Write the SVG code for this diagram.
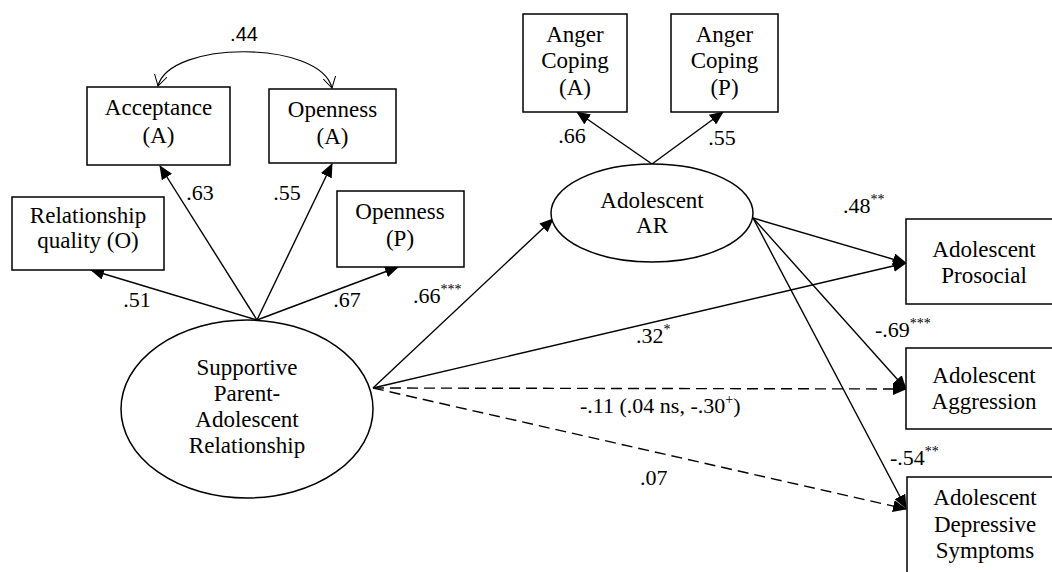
<svg xmlns="http://www.w3.org/2000/svg" width="1052" height="572" viewBox="0 0 1052 572" font-family="'Liberation Serif', 'Times New Roman', Times, serif">
<defs>
<marker id="arr" markerUnits="userSpaceOnUse" markerWidth="14" markerHeight="12" refX="13" refY="6" orient="auto">
<path d="M0,0 L14,6 L0,12 Z" fill="#000"/>
</marker>
<marker id="open" markerUnits="userSpaceOnUse" markerWidth="12" markerHeight="14" refX="11" refY="7" orient="auto-start-reverse">
<path d="M0,0.5 L11,7 L0,13.5" fill="none" stroke="#000" stroke-width="1"/>
</marker>
<style>
rect, ellipse { fill: #fff; stroke: #000; stroke-width: 1.5; }
text { font-size: 23px; fill: #000; }
.c { text-anchor: middle; }
.lbl { font-size: 22px; }
.sans { font-family: 'Liberation Sans', Arial, sans-serif; font-size: 20px; }
.ln { stroke: #000; stroke-width: 1.4; fill: none; marker-end: url(#arr); }
.dash { stroke-dasharray: 11 6; }
.sup { font-size: 14px; }
</style>
</defs>

<g id="connectors">
<path d="M158,86 C170,40 320,40 332,88" stroke="#000" stroke-width="1.2" fill="none" marker-start="url(#open)" marker-end="url(#open)"/>
<line class="ln" x1="257" y1="320" x2="160" y2="166"/>
<line class="ln" x1="257" y1="320" x2="332" y2="164"/>
<line class="ln" x1="257" y1="320" x2="91" y2="270"/>
<line class="ln" x1="257" y1="320" x2="398" y2="267"/>
<line class="ln" x1="652" y1="164" x2="577" y2="112"/>
<line class="ln" x1="652" y1="164" x2="723" y2="112"/>
<line class="ln" x1="373" y1="388" x2="553" y2="219"/>
<line class="ln" x1="373" y1="388" x2="906" y2="263"/>
<line class="ln dash" x1="373" y1="388" x2="906" y2="389"/>
<line class="ln dash" x1="373" y1="388" x2="906" y2="509"/>
<line class="ln" x1="753" y1="218" x2="906" y2="263"/>
<line class="ln" x1="753" y1="218" x2="906" y2="389"/>
<line class="ln" x1="753" y1="218" x2="906" y2="508"/>
</g>

<g id="labels">
<text class="sans c" x="244" y="41">.44</text>
<text class="lbl c" x="200" y="200">.63</text>
<text class="lbl c" x="287" y="200">.55</text>
<text class="lbl c" x="137" y="307">.51</text>
<text class="lbl c" x="347" y="307">.67</text>
<text class="lbl c" x="572" y="143">.66</text>
<text class="lbl c" x="722" y="145">.55</text>
<text class="lbl" x="413" y="303">.66<tspan class="sup" dy="-9">***</tspan></text>
<text class="lbl" x="636" y="343">.32<tspan class="sup" dy="-9">*</tspan></text>
<text class="lbl" x="580" y="413">-.11 (.04 ns, -.30<tspan class="sup" dy="-9">+</tspan><tspan dy="9">)</tspan></text>
<text class="lbl" x="640" y="485">.07</text>
<text class="lbl" x="843" y="213">.48<tspan class="sup" dy="-9">**</tspan></text>
<text class="lbl" x="875" y="337">-.69<tspan class="sup" dy="-9">***</tspan></text>
<text class="lbl" x="890" y="465">-.54<tspan class="sup" dy="-9">**</tspan></text>
</g>

<g id="acceptance">
<rect x="87" y="87" width="143" height="78"/>
<text class="c" x="158.5" y="115">Acceptance</text>
<text class="c" x="158.5" y="143">(A)</text>
</g>
<g id="openness-a">
<rect x="269" y="89" width="127" height="74"/>
<text class="c" x="332.5" y="117">Openness</text>
<text class="c" x="332.5" y="144">(A)</text>
</g>
<g id="relationship-quality">
<rect x="12" y="197" width="152" height="73"/>
<text class="c" x="88" y="223">Relationship</text>
<text class="c" x="88" y="248">quality (O)</text>
</g>
<g id="openness-p">
<rect x="337" y="191" width="127" height="76"/>
<text class="c" x="400" y="219">Openness</text>
<text class="c" x="400" y="246">(P)</text>
</g>
<g id="supportive">
<ellipse cx="247" cy="409" rx="126" ry="89"/>
<text class="c" x="247" y="375">Supportive</text>
<text class="c" x="247" y="401">Parent-</text>
<text class="c" x="247" y="427">Adolescent</text>
<text class="c" x="247" y="453">Relationship</text>
</g>
<g id="anger-a">
<rect x="523" y="14" width="104" height="98"/>
<text class="c" x="575" y="42">Anger</text>
<text class="c" x="575" y="68">Coping</text>
<text class="c" x="575" y="95">(A)</text>
</g>
<g id="anger-p">
<rect x="671" y="14" width="107" height="98"/>
<text class="c" x="724.5" y="42">Anger</text>
<text class="c" x="724.5" y="68">Coping</text>
<text class="c" x="724.5" y="95">(P)</text>
</g>
<g id="adolescent-ar">
<ellipse cx="652" cy="213" rx="101" ry="49"/>
<text class="c" x="652" y="208">Adolescent</text>
<text class="c" x="652" y="233">AR</text>
</g>
<g id="prosocial">
<rect x="906" y="219" width="160" height="85"/>
<text class="c" x="984" y="257">Adolescent</text>
<text class="c" x="984" y="283">Prosocial</text>
</g>
<g id="aggression">
<rect x="906" y="348" width="160" height="81"/>
<text class="c" x="984" y="383">Adolescent</text>
<text class="c" x="984" y="409">Aggression</text>
</g>
<g id="depressive">
<rect x="907" y="477" width="160" height="110"/>
<text class="c" x="985" y="505">Adolescent</text>
<text class="c" x="985" y="532">Depressive</text>
<text class="c" x="985" y="558">Symptoms</text>
</g>
</svg>
